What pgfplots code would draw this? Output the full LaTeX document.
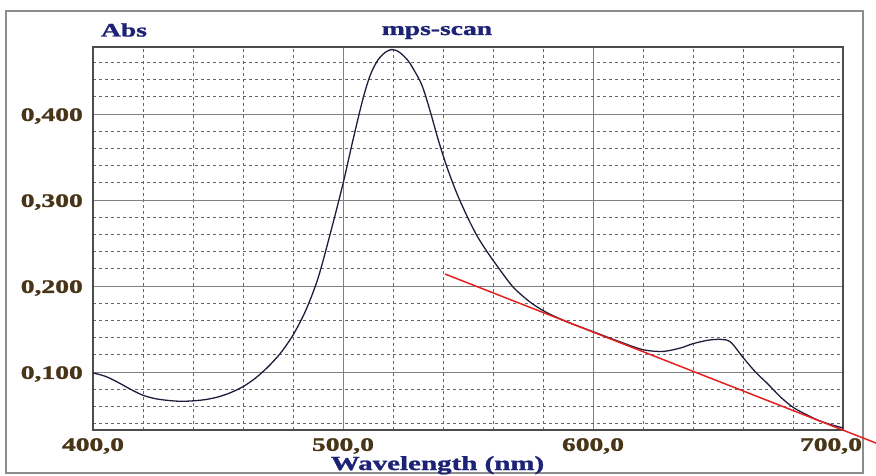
\documentclass[border=0pt]{standalone}
\usepackage{fontspec}
\setmainfont{Liberation Serif}[BoldFeatures={FakeBold=1.2}]
\usepackage{graphicx}
\usepackage{pgfplots}
\pgfplotsset{compat=1.18}
\definecolor{tickbrown}{RGB}{72,52,22}
\definecolor{navy}{RGB}{28,34,118}
\definecolor{curve}{RGB}{30,30,60}
\definecolor{redline}{RGB}{228,32,32}
\newcommand\sx[1]{\scalebox{1.45}[1]{#1}}
\begin{document}
\begin{tikzpicture}
\draw[black!45, line width=2pt] (6pt,2pt) rectangle (863pt,464pt);
\begin{axis}[
  at={(93pt,45pt)}, anchor=south west,
  scale only axis, width=750pt, height=383pt,
  xmin=400, xmax=700, ymin=0.0326, ymax=0.478,
  xtick={400,500,600,700}, ytick={0.1,0.2,0.3,0.4},
  minor xtick={420,440,460,480,520,540,560,580,620,640,660,680},
  minor ytick={0.04,0.06,0.08,0.12,0.14,0.16,0.18,0.22,0.24,0.26,0.28,0.32,0.34,0.36,0.38,0.42,0.44,0.46},
  grid=both,
  major grid style={black!50, line width=1pt},
  minor grid style={black!60, line width=0.8pt, dash pattern=on 3pt off 3pt},
  major tick length=0pt, minor tick length=0pt,
  axis line style={black!70, line width=1.5pt},
  xticklabels={\sx{400,0},\sx{500,0},\sx{600,0},\sx{700,0}\hspace*{24pt}},
  yticklabels={\sx{0,100},\sx{0,200},\sx{0,300},\sx{0,400}},
  tick label style={font=\bfseries\fontsize{19}{19}\selectfont, text=tickbrown},
  xticklabel style={inner sep=0pt, anchor=north, yshift=-8pt},
  yticklabel style={inner sep=0pt, anchor=east, xshift=-10pt, yshift=-2pt},
  clip=false,
]
\addplot[curve, line width=1.3pt, smooth] coordinates {
(400,0.099) (405,0.095) (410,0.088) (415,0.080) (420,0.073) (425,0.069)
(430,0.067) (435,0.066) (440,0.0665) (445,0.068) (450,0.071) (455,0.076)
(460,0.083) (465,0.093) (470,0.106) (475,0.122) (480,0.143) (485,0.171)
(490,0.209) (495,0.262) (500,0.319) (504,0.370) (508,0.418) (511,0.446)
(514,0.463) (517,0.472) (519.5,0.475) (522,0.473) (524.5,0.467) (527,0.458)
(531.5,0.434) (535,0.402) (538,0.371) (541.5,0.339) (545.5,0.308) (549.5,0.282)
(553.5,0.259) (557.5,0.2405) (561.5,0.224) (568,0.199) (575,0.181) (581.6,0.169)
(590,0.158) (600,0.147) (610,0.136) (620,0.126) (628,0.124) (635,0.128)
(640,0.133) (646,0.137) (651,0.138) (655,0.135) (660,0.117) (665,0.100)
(670,0.086) (675,0.071) (680,0.059) (685,0.051) (690,0.044) (695,0.039)
(700,0.035)
};
\addplot[redline, line width=1.5pt] coordinates {(540.8,0.214) (714,0.0165)};
\end{axis}
\node[font=\bfseries\fontsize{19}{19}\selectfont, text=navy, anchor=base] at (124pt,438.5pt) {\sx{Abs}};
\node[font=\bfseries\fontsize{19}{19}\selectfont, text=navy, anchor=base] at (437pt,440pt) {\sx{mps-scan}};
\node[font=\bfseries\fontsize{20}{20}\selectfont, text=navy, anchor=base] at (437.5pt,5pt) {\sx{Wavelength (nm)}};
\pgfresetboundingbox
\path[use as bounding box] (0pt,0pt) rectangle (876pt,475pt);
\end{tikzpicture}
\end{document}
